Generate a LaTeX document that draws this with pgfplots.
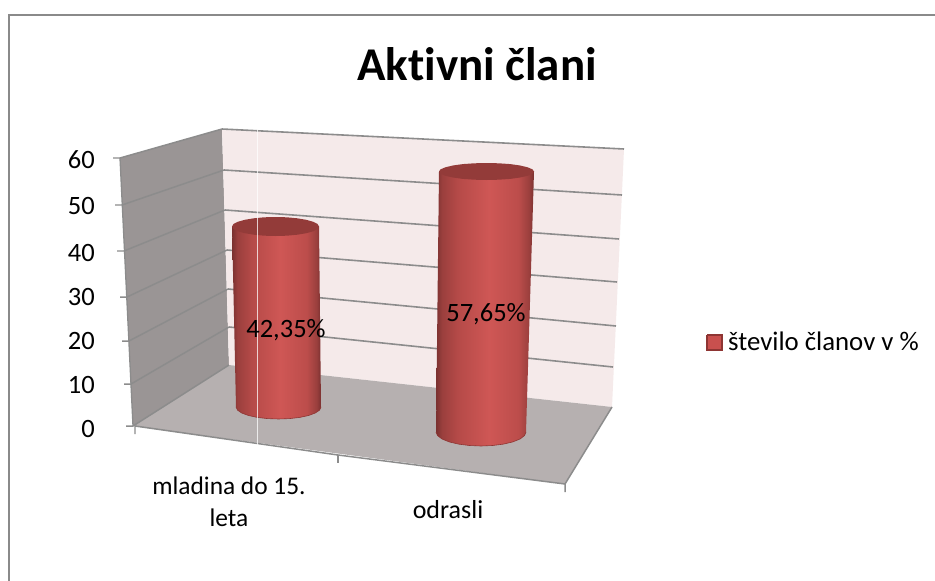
\documentclass[border=0pt]{standalone}
\usepackage{pgfplots}
\pgfplotsset{compat=1.18}
\usepackage{fontspec}
\setmainfont[Ligatures=NoCommon]{Carlito}
\definecolor{framec}{HTML}{8A8A8A}
\definecolor{gridc}{HTML}{8C8C8C}
\definecolor{sidewall}{HTML}{9A9595}
\definecolor{backwall}{HTML}{F5EAEA}
\definecolor{floorc}{HTML}{B6B0B0}
\definecolor{topc}{HTML}{933B39}
\definecolor{edgec}{HTML}{8E3533}
\definecolor{legfill}{HTML}{C9504E}
\definecolor{cyla}{HTML}{7A3130}
\definecolor{cylb}{HTML}{9A3F3D}
\definecolor{cylc}{HTML}{B54A48}
\definecolor{cyld}{HTML}{CF5755}
\definecolor{cyle}{HTML}{BC4D4B}
% dark edges, light stripe just right of the middle
\pgfdeclarehorizontalshading{cyl}{100bp}{
  color(0bp)=(cyla);
  color(25bp)=(cyla);
  color(28bp)=(cylb);
  color(36bp)=(cylc);
  color(52bp)=(cyld);
  color(67bp)=(cyle);
  color(72.5bp)=(cylb);
  color(75bp)=(cyla);
  color(100bp)=(cyla)
}
\begin{document}
\begin{tikzpicture}
\begin{axis}[
  scale only axis, width=935bp, height=581bp,
  xmin=0, xmax=935, ymin=0, ymax=581, y dir=reverse,
  hide axis, clip=true,
  every axis plot/.append style={mark=none},
]
% canvas, keeps the page as large as the axis
\addplot[fill=white, draw=none] coordinates {(0,0) (935,0) (935,581) (0,581) (0,0)};
% frame
\addplot[framec, line width=2pt] coordinates {(9,581) (9,15) (935,15)};
% walls and floor
\addplot[fill=sidewall, draw=none] coordinates {(120,158) (222,129) (229,365) (133,426) (120,158)};
\addplot[fill=backwall, draw=none] coordinates {(222,129) (624,149) (612,407) (229,365) (222,129)};
\addplot[fill=floorc, draw=none] coordinates {(229,365) (612,407) (565,484) (133,426) (229,365)};
% gridlines, back wall
\addplot[gridc, line width=1.6pt] coordinates {(222,129) (624,149)};
\addplot[gridc, line width=1.6pt] coordinates {(224,170) (622,195)};
\addplot[gridc, line width=1.6pt] coordinates {(225,210) (619,239)};
\addplot[gridc, line width=1.6pt] coordinates {(227,250) (617,282)};
\addplot[gridc, line width=1.6pt] coordinates {(228,289) (616,326)};
\addplot[gridc, line width=1.6pt] coordinates {(229,327) (613,367)};
% gridlines and ticks, side wall
\addplot[gridc, line width=1.5pt] coordinates {(113,158) (120,158) (222,129)};
\addplot[gridc, line width=1.5pt] coordinates {(115,205) (122,205) (224,170)};
\addplot[gridc, line width=1.5pt] coordinates {(117,251) (124,251) (225,210)};
\addplot[gridc, line width=1.5pt] coordinates {(120,297) (127,297) (227,250)};
\addplot[gridc, line width=1.5pt] coordinates {(122,341) (129,341) (228,289)};
\addplot[gridc, line width=1.5pt] coordinates {(124,384) (131,384) (229,327)};
\addplot[gridc, line width=1.5pt] coordinates {(126,426) (133,426) (229,365)};
% axis edges
\addplot[gridc, line width=1.3pt] coordinates {(120,158) (133,426)};
\addplot[gridc, line width=1.5pt] coordinates {(135,434) (135,426) (338,455) (565,484) (565,492)};
\addplot[gridc, line width=1.3pt] coordinates {(338,455) (338,463)};
\addplot[gridc, line width=1.5pt] coordinates {(565,484) (612,407)};
% mladina do 15. leta: 42,35
\addplot[shade, shading=cyl, draw=none] coordinates {
  (232,226.5) (236,407) (237.5,410.1) (241.7,413) (248.5,415.5) (257.3,417.4) (267.5,418.6)
  (278.5,419) (289.5,418.6) (299.8,417.4) (308.6,415.5) (315.3,413) (319.6,410.1) (321,407)
  (319,226.5) (232,226.5)};
\addplot[edgec, line width=0.6pt] coordinates {
  (236,407) (237.5,410.1) (241.7,413) (248.5,415.5) (257.3,417.4) (267.5,418.6)
  (278.5,419) (289.5,418.6) (299.8,417.4) (308.6,415.5) (315.3,413) (319.6,410.1) (321,407)};
\addplot[fill=topc, draw=none] coordinates {
  (232,226.5) (233.5,224) (237.8,221.8) (244.7,219.8) (253.8,218.3) (264.2,217.3)
  (275.5,217) (286.8,217.3) (297.3,218.3) (306.3,219.8) (313.2,221.8) (317.5,224) (319,226.5)
  (317.5,229) (313.2,231.3) (306.3,233.2) (297.3,234.7) (286.8,235.7)
  (275.5,236) (264.2,235.7) (253.8,234.7) (244.7,233.2) (237.8,231.3) (233.5,229) (232,226.5)};
% odrasli: 57,65
\addplot[shade, shading=cyl, draw=none] coordinates {
  (439,171.5) (436,432) (437.5,435.6) (442,439) (449.2,441.9) (458.5,444.1) (469.4,445.5)
  (481,446) (492.6,445.5) (503.5,444.1) (512.8,441.9) (520,439) (524.5,435.6) (526,432)
  (534,171.5) (439,171.5)};
\addplot[edgec, line width=0.6pt] coordinates {
  (436,432) (437.5,435.6) (442,439) (449.2,441.9) (458.5,444.1) (469.4,445.5)
  (481,446) (492.6,445.5) (503.5,444.1) (512.8,441.9) (520,439) (524.5,435.6) (526,432)};
\addplot[fill=topc, draw=none] coordinates {
  (439,171.5) (440.6,169.3) (445.4,167.3) (452.9,165.5) (462.8,164.1) (474.2,163.3)
  (486.5,163) (498.8,163.3) (510.3,164.1) (520.1,165.5) (527.6,167.3) (532.4,169.3) (534,171.5)
  (532.4,173.7) (527.6,175.8) (520.1,177.5) (510.3,178.9) (498.8,179.7)
  (486.5,180) (474.2,179.7) (462.8,178.9) (452.9,177.5) (445.4,175.8) (440.6,173.7) (439,171.5)};
% white stripe across the picture
\addplot[white, opacity=0.75, line width=1pt] coordinates {(257,129) (257,445)};
% legend key
\addplot[fill=legfill, draw=edgec, line width=1.2pt] coordinates {(707,335) (722,335) (722,350) (707,350) (707,335)};
% texts
\node[font=\fontsize{47bp}{50bp}\selectfont\bfseries] at (axis cs:477,64) {Aktivni člani};
\foreach \v/\y in {60/160,50/206,40/253,30/297,20/341,10/385,0/429}{
  \edef\temp{\noexpand\node[anchor=east,font=\noexpand\fontsize{26.5bp}{30bp}\noexpand\selectfont,inner sep=0pt] at (axis cs:95,\y) {\v};}\temp
}
\node[font=\fontsize{26.5bp}{30bp}\selectfont] at (axis cs:286,330) {42,35\%};
\node[font=\fontsize{26.5bp}{30bp}\selectfont] at (axis cs:486,314) {57,65\%};
\node[anchor=west,inner sep=0pt,font=\fontsize{26.8bp}{30bp}\selectfont] at (axis cs:728,341) {število članov v \%};
\node[font=\fontsize{25.4bp}{30bp}\selectfont] at (axis cs:229,486) {mladina do 15.};
\node[font=\fontsize{25.4bp}{30bp}\selectfont] at (axis cs:229,518) {leta};
\node[font=\fontsize{26bp}{30bp}\selectfont] at (axis cs:448,510) {odrasli};
\end{axis}
\end{tikzpicture}
\end{document}
